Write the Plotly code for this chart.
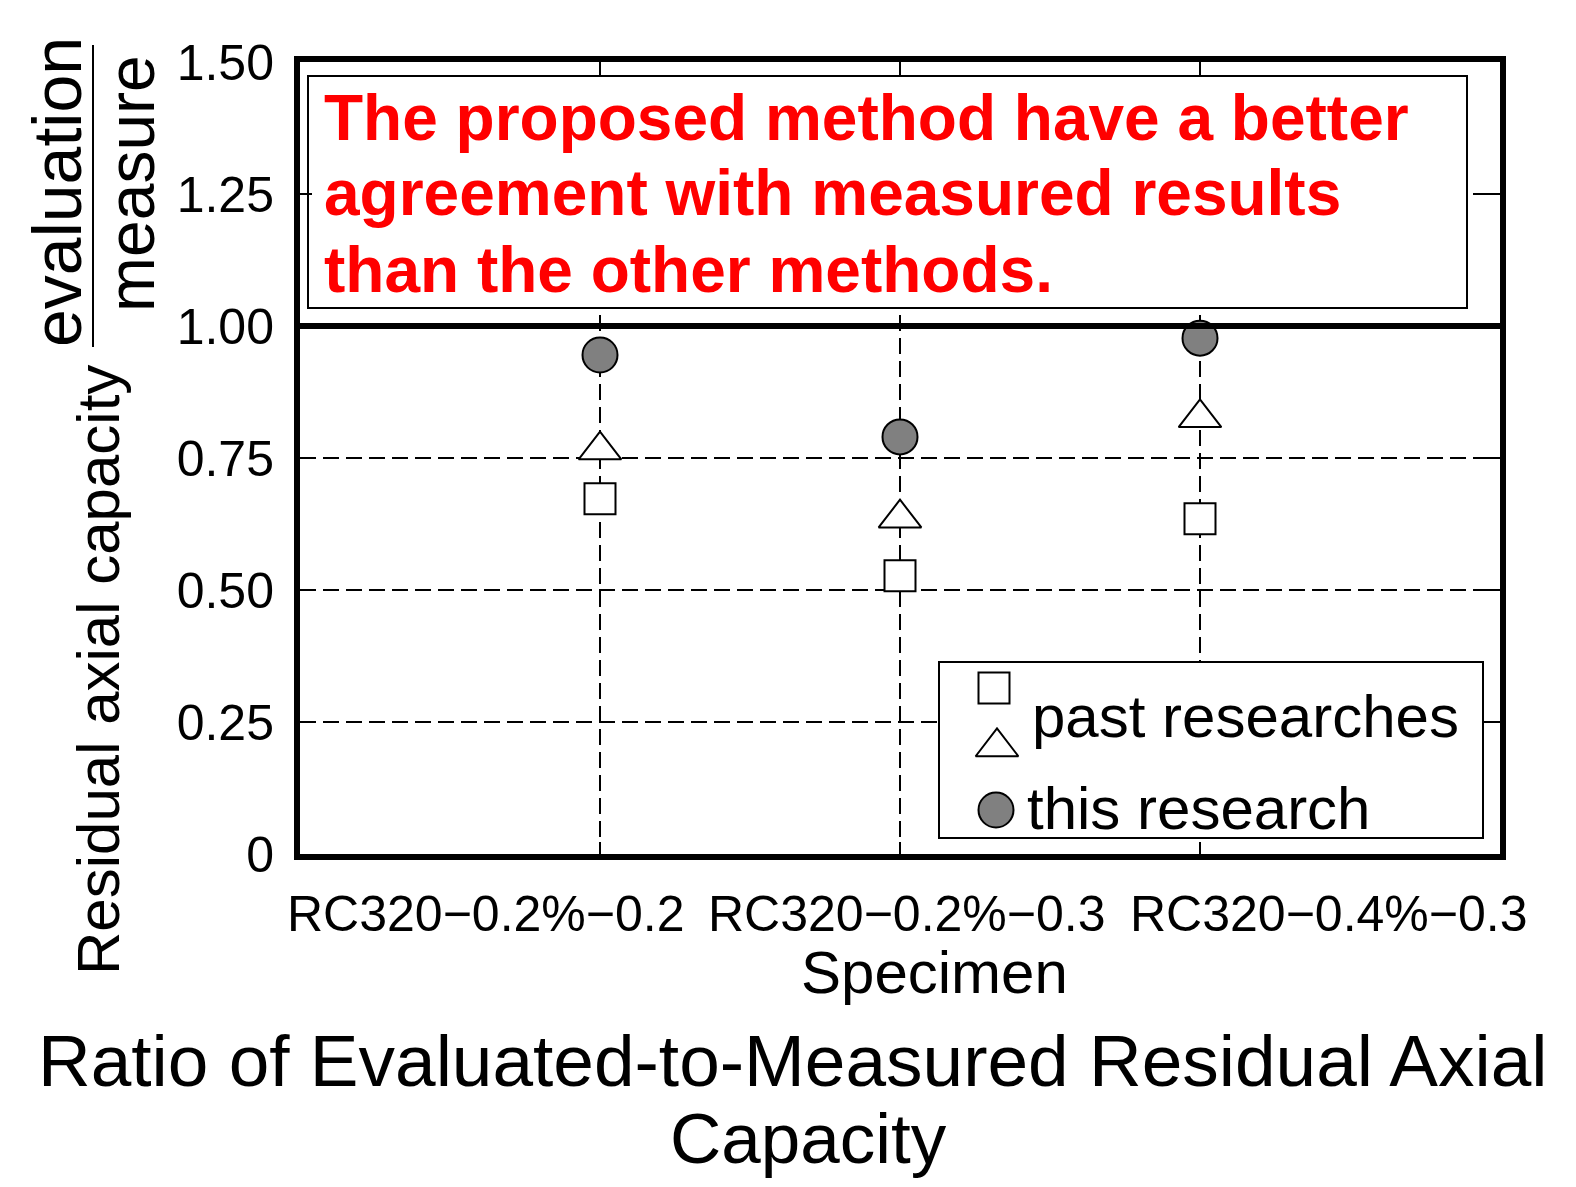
import plotly.graph_objects as go

# ---------------- data ----------------
specimens = ["RC320\u22120.2%\u22120.2", "RC320\u22120.2%\u22120.3", "RC320\u22120.4%\u22120.3"]
past_square = [0.673, 0.527, 0.635]
past_triangle = [0.765, 0.636, 0.826]
this_research = [0.945, 0.790, 0.977]
y_tickvals = [0, 0.25, 0.5, 0.75, 1.0, 1.25, 1.5]
y_ticktext = ["0", "0.25", "0.50", "0.75", "1.00", "1.25", "1.50"]
note_lines = ["The proposed method have a better",
              "agreement with measured results",
              "than the other methods."]
title_lines = ["Ratio of Evaluated-to-Measured Residual Axial", "Capacity"]

# ---------------- layout geometry (screen pixels) ----------------
OFF = 8                      # default page body margin
FW, FH = 1576 - 2 * OFF, 1187 - 2 * OFF
L, R, T, B = 300, 1500, 62, 854   # plot area in screen pixels
W, H = R - L, B - T
YMAX = 1.5
FONT = "Liberation Sans, Arial, sans-serif"


def px(x):
    return (x - L) / W


def py(y):
    return (B - y) / H


def cxd(x):   # screen x -> category-axis coordinate (range -1..3)
    return -1 + 4 * (x - L) / W


def cyd(y):   # screen y -> data y
    return YMAX * (B - y) / H


fig = go.Figure()

mk_line = dict(color="black", width=2)
fig.add_trace(go.Scatter(x=specimens, y=past_square, mode="markers",
                         marker=dict(symbol="square", size=31, color="white", line=mk_line),
                         showlegend=False, hoverinfo="skip"))
fig.add_trace(go.Scatter(x=specimens, y=past_triangle, mode="markers",
                         marker=dict(symbol="triangle-up", size=37, color="white", line=mk_line),
                         showlegend=False, hoverinfo="skip"))
fig.add_trace(go.Scatter(x=specimens, y=this_research, mode="markers",
                         marker=dict(symbol="circle", size=35, color="#808080", line=mk_line),
                         showlegend=False, hoverinfo="skip"))

# custom legend markers on a pixel-scaled overlay axis
fig.add_trace(go.Scatter(x=[994], y=[688], xaxis="x2", yaxis="y2", mode="markers",
                         marker=dict(symbol="square", size=31, color="white", line=mk_line),
                         showlegend=False, hoverinfo="skip"))
fig.add_trace(go.Scatter(x=[997], y=[747], xaxis="x2", yaxis="y2", mode="markers",
                         marker=dict(symbol="triangle-up", size=37, color="white", line=mk_line),
                         showlegend=False, hoverinfo="skip"))
fig.add_trace(go.Scatter(x=[996], y=[810], xaxis="x2", yaxis="y2", mode="markers",
                         marker=dict(symbol="circle", size=35, color="#808080", line=mk_line),
                         showlegend=False, hoverinfo="skip"))

shapes = [
    # note box (covers gridlines)
    dict(type="rect", xref="x", yref="y", x0=cxd(308), x1=cxd(1467), y0=cyd(308), y1=cyd(76),
         fillcolor="white", line=dict(color="black", width=2), layer="between"),
    # legend box
    dict(type="rect", xref="x", yref="y", x0=cxd(939), x1=cxd(1483), y0=cyd(838), y1=cyd(662),
         fillcolor="white", line=dict(color="black", width=2), layer="between"),
    # reference line at 1.0
    dict(type="line", xref="paper", yref="y", x0=0, x1=1, y0=1.0, y1=1.0,
         line=dict(color="black", width=6), layer="above"),
    # fraction bar in y title
    dict(type="line", xref="paper", yref="paper", x0=px(93), x1=px(93), y0=py(45), y1=py(347),
         line=dict(color="black", width=2), layer="above"),
]

ann = []
for line, cy in zip(note_lines, [118, 193, 270]):
    ann.append(dict(text=line, xref="paper", yref="paper", x=px(322), y=py(cy),
                    xanchor="left", yanchor="middle", showarrow=False,
                    font=dict(family=FONT, size=64, color="#ff0000", weight="bold")))
for lab, cx in zip(specimens, [486, 907, 1329]):
    ann.append(dict(text=lab, xref="paper", yref="paper", x=px(cx), y=py(914),
                    xanchor="center", yanchor="middle", showarrow=False,
                    font=dict(family=FONT, size=50, color="black")))
ann.append(dict(text="Specimen", xref="paper", yref="paper", x=px(934), y=py(972),
                xanchor="center", yanchor="middle", showarrow=False,
                font=dict(family=FONT, size=60, color="black")))
ann.append(dict(text="Residual axial capacity", xref="paper", yref="paper", x=px(98), y=py(670),
                xanchor="center", yanchor="middle", showarrow=False, textangle=-90,
                font=dict(family=FONT, size=60, color="black")))
ann.append(dict(text="evaluation", xref="paper", yref="paper", x=px(57), y=py(192),
                xanchor="center", yanchor="middle", showarrow=False, textangle=-90,
                font=dict(family=FONT, size=68, color="black")))
ann.append(dict(text="measure", xref="paper", yref="paper", x=px(131), y=py(184),
                xanchor="center", yanchor="middle", showarrow=False, textangle=-90,
                font=dict(family=FONT, size=66, color="black")))
ann.append(dict(text="past researches", xref="paper", yref="paper", x=px(1030), y=py(716),
                xanchor="left", yanchor="middle", showarrow=False,
                font=dict(family=FONT, size=60, color="black")))
ann.append(dict(text="this research", xref="paper", yref="paper", x=px(1025), y=py(808),
                xanchor="left", yanchor="middle", showarrow=False,
                font=dict(family=FONT, size=60, color="black")))
ann.append(dict(text=title_lines[0], xref="paper", yref="paper", x=px(36), y=py(1060),
                xanchor="left", yanchor="middle", showarrow=False,
                font=dict(family=FONT, size=73, color="black")))
ann.append(dict(text=title_lines[1], xref="paper", yref="paper", x=px(808), y=py(1138),
                xanchor="center", yanchor="middle", showarrow=False,
                font=dict(family=FONT, size=71, color="black")))

grid = dict(showgrid=True, gridcolor="black", gridwidth=2, griddash="16px,7px",
            showline=True, linecolor="black", linewidth=6, mirror="ticks",
            ticks="inside", ticklen=12, tickwidth=2, tickcolor="black", zeroline=False)

fig.update_layout(
    width=FW, height=FH,
    margin=dict(l=L - OFF, r=FW - (R - OFF), t=T - OFF, b=FH - (B - OFF), pad=0),
    paper_bgcolor="white", plot_bgcolor="white",
    font=dict(family=FONT, color="black"),
    showlegend=False,
    shapes=shapes, annotations=ann,
    xaxis=dict(type="category", range=[-1, 3], showticklabels=False, **grid),
    yaxis=dict(range=[0, YMAX], tickvals=y_tickvals, ticktext=y_ticktext,
               tickfont=dict(family=FONT, size=50, color="black"),
               ticklabelstandoff=10, **grid),
    xaxis2=dict(overlaying="x", range=[L, R], visible=False, showgrid=False),
    yaxis2=dict(overlaying="y", range=[B, T], visible=False, showgrid=False),
)

fig.write_html("out.html")
